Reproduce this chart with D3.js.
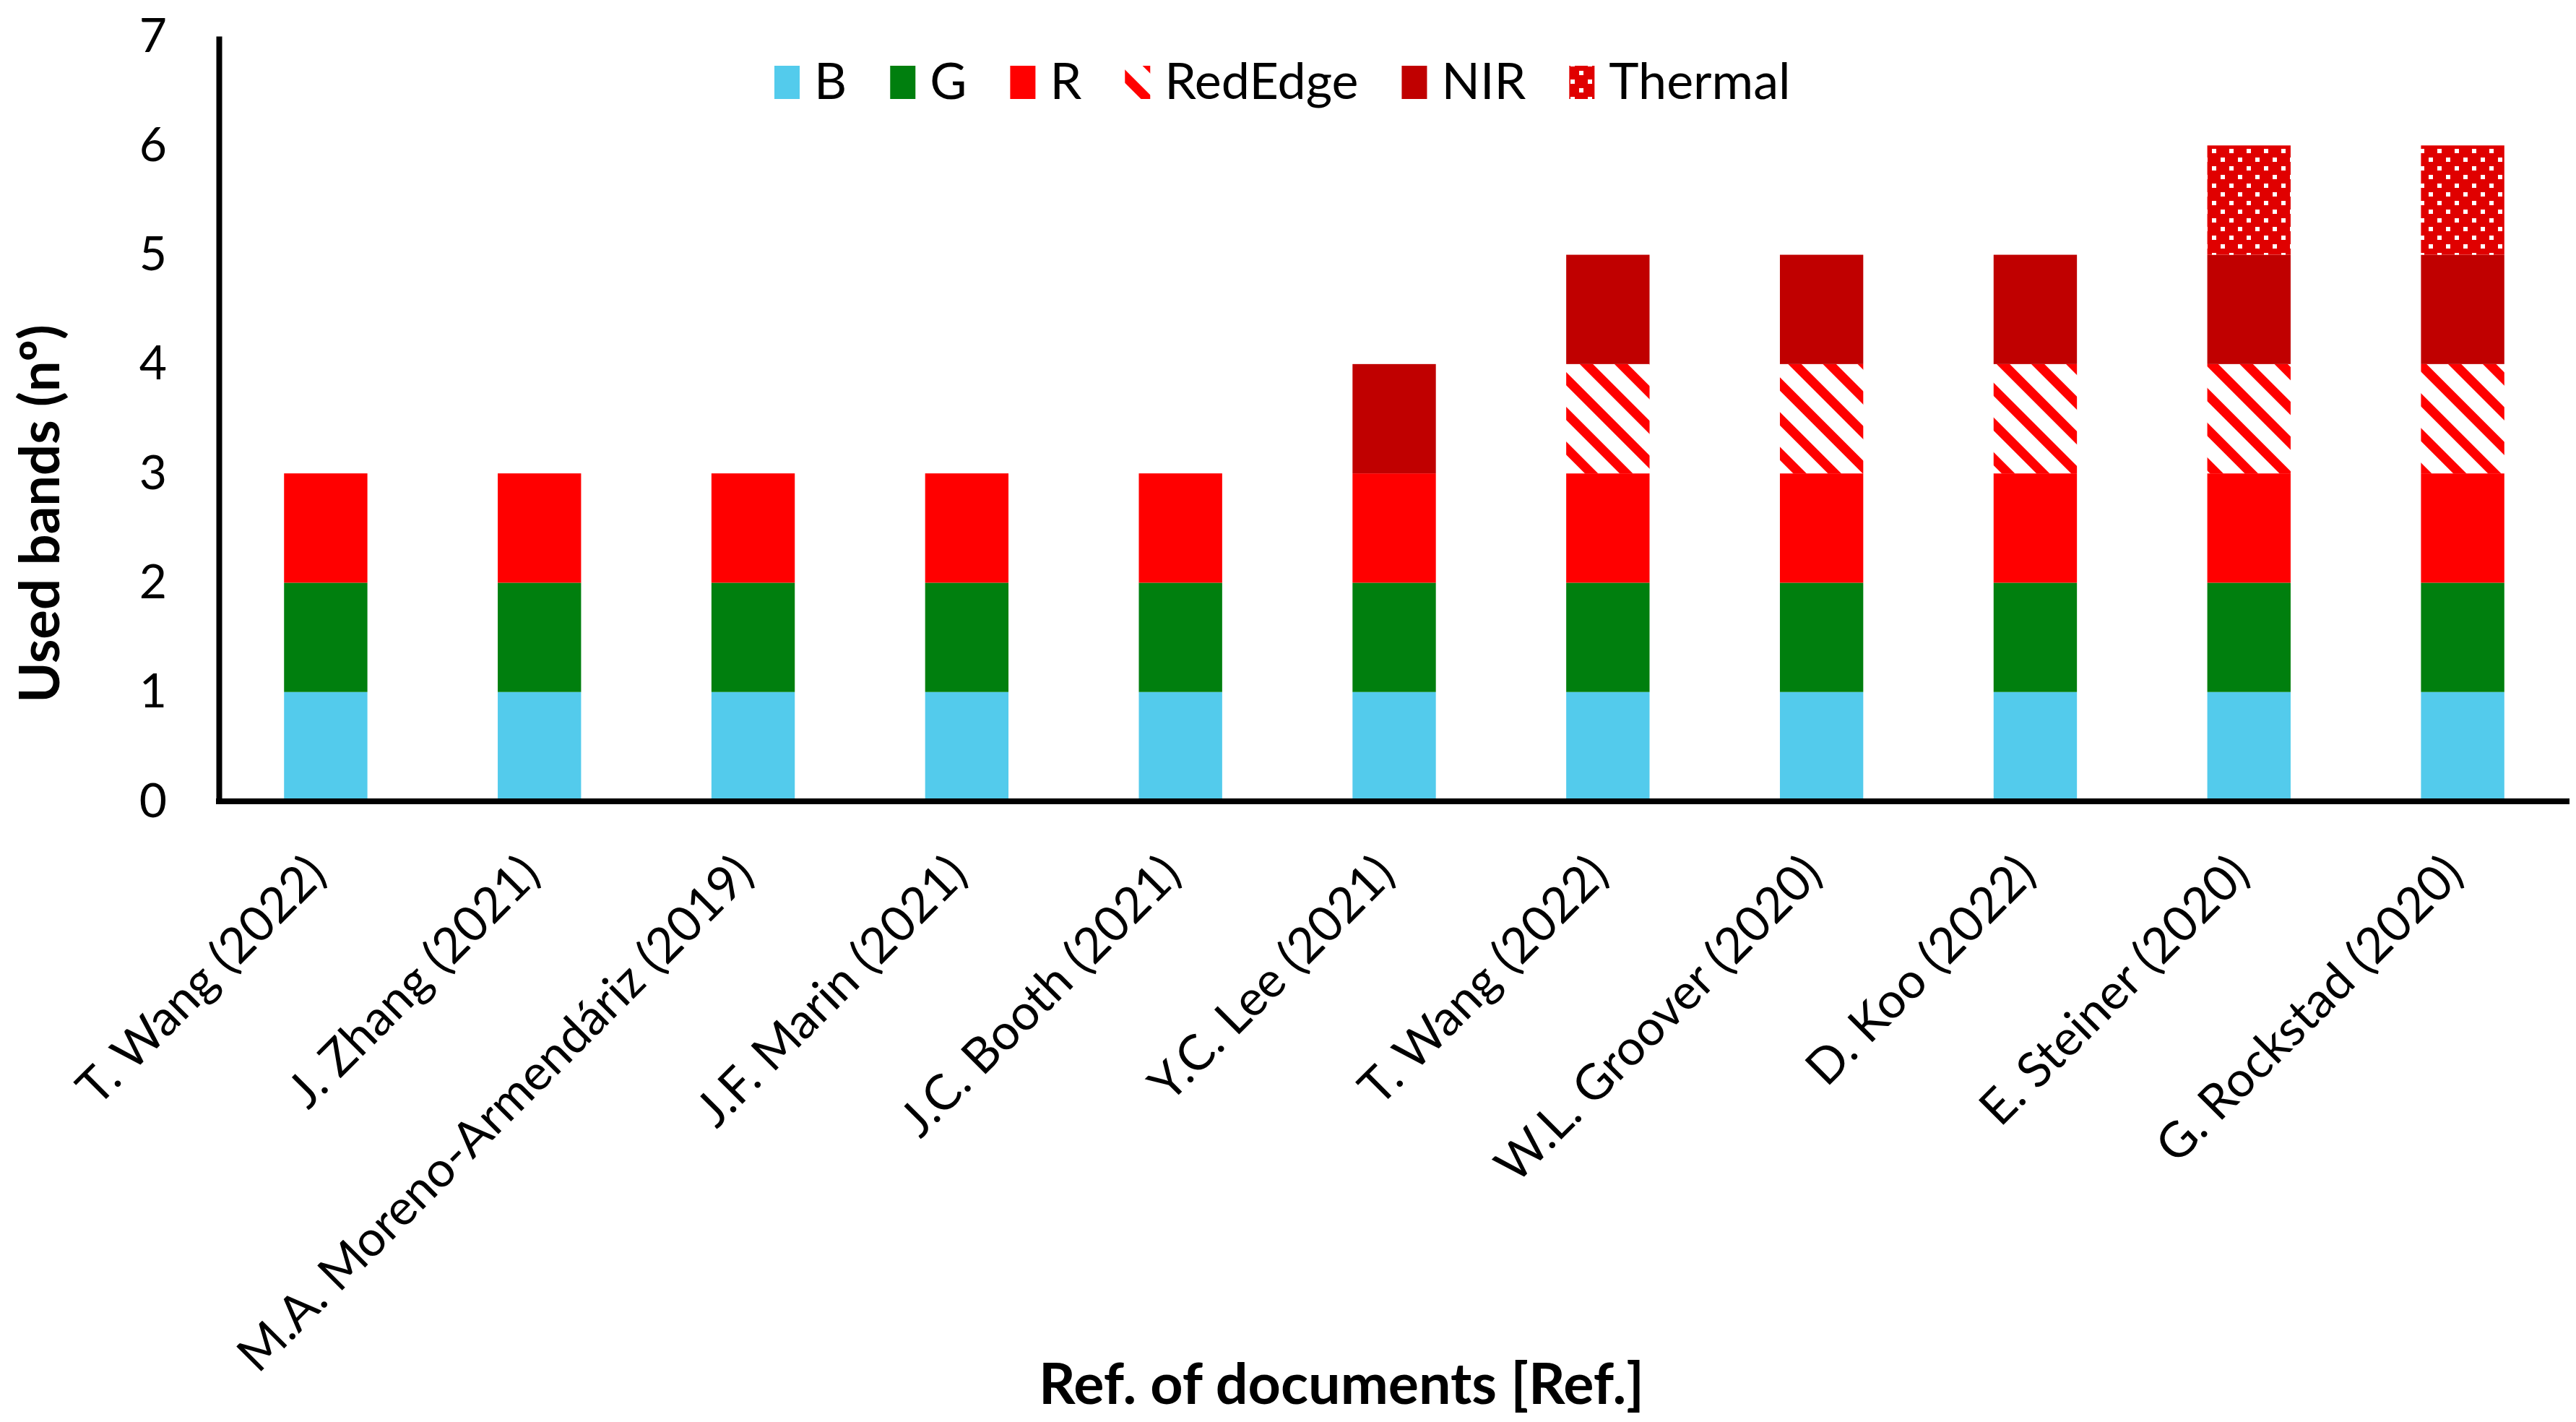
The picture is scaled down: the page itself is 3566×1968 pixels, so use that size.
<!DOCTYPE html>
<html><head><meta charset="utf-8">
<script src="https://cdn.jsdelivr.net/npm/d3@7"></script>
<style>html,body{margin:0;padding:0;background:#fff;}svg{display:block;}</style>
</head><body>
<svg id="chart" width="3566" height="1968"></svg>
<script>
const categories = ["T. Wang (2022)","J. Zhang (2021)","M.A. Moreno-Armendáriz (2019)","J.F. Marin (2021)","J.C. Booth (2021)","Y.C. Lee (2021)","T. Wang (2022)","W.L. Groover (2020)","D. Koo (2022)","E. Steiner (2020)","G. Rockstad (2020)"];
const seriesNames = ["B","G","R","RedEdge","NIR","Thermal"];
const B       = [1,1,1,1,1,1,1,1,1,1,1];
const G       = [1,1,1,1,1,1,1,1,1,1,1];
const R       = [1,1,1,1,1,1,1,1,1,1,1];
const RedEdge = [0,0,0,0,0,0,1,1,1,1,1];
const NIR     = [0,0,0,0,0,1,1,1,1,1,1];
const Thermal = [0,0,0,0,0,0,0,0,0,1,1];
const yTicks = [0,1,2,3,4,5,6,7];

const seriesValues = {B, G, R, RedEdge, NIR, Thermal};
const fills = {B:"#53CBEC", G:"#007F0E", R:"#FF0000", RedEdge:"url(#pRedEdge)", NIR:"#C00000", Thermal:"url(#pThermal)"};

const svg = d3.select("#chart");
const font = "Lato, 'Noto Sans', sans-serif";
const m = {left:303, right:3557, top:50, bottom:1109};

const defs = svg.append("defs");
const pr = defs.append("pattern").attr("id","pRedEdge").attr("patternUnits","userSpaceOnUse")
  .attr("width",34).attr("height",34).attr("patternTransform","rotate(-45)");
pr.append("rect").attr("width",34).attr("height",34).attr("fill","#fff");
pr.append("rect").attr("width",13).attr("height",34).attr("fill","#FF0000");
const pt = defs.append("pattern").attr("id","pThermal").attr("patternUnits","userSpaceOnUse")
  .attr("width",24).attr("height",24);
pt.append("rect").attr("width",24).attr("height",24).attr("fill","#E00000");
pt.append("rect").attr("x",2).attr("y",2).attr("width",6).attr("height",6).attr("fill","#fff");
pt.append("rect").attr("x",14).attr("y",14).attr("width",6).attr("height",6).attr("fill","#fff");

const x = d3.scaleBand().domain(d3.range(categories.length)).range([m.left, m.right])
  .paddingInner(0.61).paddingOuter(0.305);
const y = d3.scaleLinear().domain([0,7]).range([m.bottom, m.top]);

const table = categories.map((c,i)=>{ const o={i}; seriesNames.forEach(s=>o[s]=seriesValues[s][i]); return o; });
const stack = d3.stack().keys(seriesNames)(table);

svg.append("g").selectAll("g").data(stack).join("g")
  .attr("fill", d=>fills[d.key])
  .selectAll("rect").data(d=>d.filter(p=>p[1]-p[0]>0)).join("rect")
  .attr("x", d=>x(d.data.i)).attr("width", x.bandwidth())
  .attr("y", d=>y(d[1])).attr("height", d=>y(d[0])-y(d[1]));

// Y axis
const yAxis = svg.append("g").attr("transform",`translate(${m.left},0)`)
  .call(d3.axisLeft(y).tickValues(yTicks).tickSize(0).tickSizeOuter(0).tickPadding(72).tickFormat(d3.format("d")));
yAxis.select(".domain").attr("stroke","#000").attr("stroke-width",8);
yAxis.selectAll("text").attr("font-family",font).attr("font-size",66).attr("fill","#000");

// X axis
const xAxis = svg.append("g").attr("transform",`translate(0,${m.bottom})`)
  .call(d3.axisBottom(x).tickSize(0).tickSizeOuter(0).tickFormat(i=>categories[i]));
xAxis.select(".domain").attr("stroke","#000").attr("stroke-width",8).attr("d",`M${m.left-4},0H${m.right}`);
const xl = xAxis.selectAll("text").attr("font-family",font).attr("font-size",70).attr("fill","#000")
  .attr("text-anchor","end").attr("dy",null).attr("y",0)
  .attr("transform","translate(4,104) rotate(-45)");
const longest = d3.max(xl.nodes(), n=>n.getComputedTextLength());
xl.attr("font-size", 70*975/longest);

// Axis titles
svg.append("text").attr("x",1857).attr("y",1943).attr("text-anchor","middle")
  .attr("font-family",font).attr("font-weight","bold").attr("font-size",79).text("Ref. of documents [Ref.]");
svg.append("text").attr("transform","translate(82,711) rotate(-90)").attr("text-anchor","middle")
  .attr("font-family",font).attr("font-weight","bold").attr("font-size",76).text("Used bands (nº)");

// Legend
const lg = svg.append("g");
let lx = 1072;
seriesNames.forEach(s=>{
  lg.append("rect").attr("x",lx).attr("y",91).attr("width",35).attr("height",46).attr("fill",fills[s]);
  const t = lg.append("text").attr("x",lx+55).attr("y",137).attr("font-family",font).attr("font-size",70).text(s);
  lx += 55 + t.node().getComputedTextLength() + 60;
});
</script>
</body></html>
